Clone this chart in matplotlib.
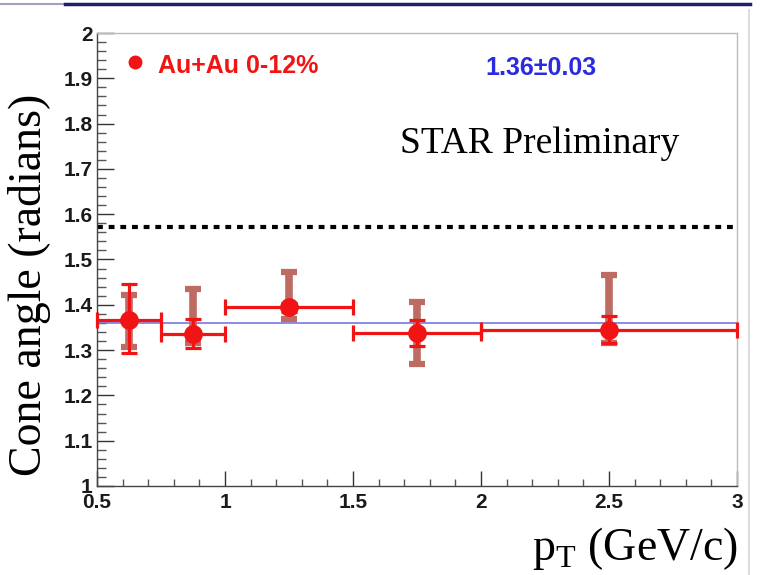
import numpy as np
import matplotlib.pyplot as plt
from matplotlib.lines import Line2D
from matplotlib.ticker import MultipleLocator

plt.rcParams['mathtext.fontset'] = 'custom'
plt.rcParams['mathtext.rm'] = 'Liberation Serif'

# pT bins (GeV/c)
pt = [0.625, 0.875, 1.25, 1.75, 2.5]
pt_lo = [0.5, 0.75, 1.0, 1.5, 2.0]
pt_hi = [0.75, 1.0, 1.5, 2.0, 3.0]

# cone angle with statistical and systematic errors
cone = [1.366, 1.336, 1.395, 1.338, 1.344]
stat_lo = [0.072, 0.031, 0.010, 0.029, 0.028]
stat_hi = [0.080, 0.033, 0.010, 0.028, 0.031]
syst_lo = [0.059, 0.020, 0.026, 0.069, 0.028]
syst_hi = [0.056, 0.099, 0.077, 0.068, 0.122]

# constant fit and the pi/2 reference
fit_value = 1.36
fit_error = 0.03
half_pi = np.pi / 2

red = '#f01414'
brown = '#bd6b63'

fig = plt.figure(figsize=(7.65, 5.75), dpi=100)
ax = fig.add_axes([0.1268, 0.1548, 0.8366, 0.7878])

xerr_lo = [p - lo for p, lo in zip(pt, pt_lo)]
xerr_hi = [hi - p for p, hi in zip(pt, pt_hi)]

ax.hlines(half_pi, 0.5, 2.985, colors='black', linewidth=3,
          linestyles=(0, (1.4, 1.4)), zorder=2)
ax.hlines(fit_value, 0.5, 3.0, colors='#6c6ce0', linewidth=1.1, zorder=2)

# systematic errors
ax.errorbar(pt, cone, yerr=[syst_lo, syst_hi], fmt='none', ecolor=brown,
            elinewidth=5.5, capsize=6, capthick=4.5, zorder=3)
# statistical errors and bin widths
ax.errorbar(pt, cone, xerr=[xerr_lo, xerr_hi], yerr=[stat_lo, stat_hi],
            fmt='o', color=red, ms=12.5, elinewidth=2.3, capsize=5.5,
            capthick=2.3, zorder=4, clip_on=False)

ax.set_xlim(0.5, 3.0)
ax.set_ylim(1.0, 2.0)
ax.xaxis.set_major_locator(MultipleLocator(0.5))
ax.xaxis.set_minor_locator(MultipleLocator(0.1))
ax.yaxis.set_major_locator(MultipleLocator(0.1))
ax.yaxis.set_minor_locator(MultipleLocator(0.02))
ax.xaxis.set_major_formatter(plt.FuncFormatter(lambda v, p: f'{v:g}'))
ax.yaxis.set_major_formatter(plt.FuncFormatter(lambda v, p: f'{v:g}'))

ax.tick_params(axis='y', which='major', direction='in', length=12, width=1,
               color='#333333', pad=3)
ax.tick_params(axis='y', which='minor', direction='in', length=6.5, width=1,
               color='#555555')
ax.tick_params(axis='x', which='major', direction='in', length=11, width=1,
               color='#333333', pad=5)
ax.tick_params(axis='x', which='minor', direction='in', length=5, width=1,
               color='#555555')
for lab in ax.get_xticklabels() + ax.get_yticklabels():
    lab.set_fontfamily('Liberation Sans')
    lab.set_fontweight('bold')
    lab.set_fontsize(15)
    lab.set_color('#1a1a1a')

for s in ['left', 'bottom']:
    ax.spines[s].set_color('#444444')
    ax.spines[s].set_linewidth(1)
for s in ['top', 'right']:
    ax.spines[s].set_color('#bbbbbb')
    ax.spines[s].set_linewidth(1)

# legend and annotations
ax.plot([0.648], [1.936], 'o', color=red, ms=9, clip_on=False)
ax.text(0.738, 1.912, 'Au+Au 0-12%', color=red, fontsize=18,
        fontweight='bold', family='Liberation Sans', va='baseline')
ax.text(2.234, 1.907, f'{fit_value:.2f}\u00b1{fit_error:.2f}', color='#2a2ae0',
        fontsize=18, fontweight='bold', family='Liberation Sans',
        ha='center', va='baseline')
ax.text(1.684, 1.735, 'STAR Preliminary', color='black', fontsize=27,
        family='Liberation Serif', va='baseline')

fig.text(30 / 765, 1 - 285 / 575, 'Cone angle (radians)', rotation=90,
         fontsize=33, family='Liberation Serif', ha='center', va='center')
fig.text(738 / 765, 1 - 560 / 575, r'$\mathrm{p}_{\mathrm{T}}$ (GeV/c)',
         fontsize=33, family='Liberation Serif', ha='right', va='baseline')

# slide frame lines
fig.add_artist(Line2D([0, 65 / 765], [1 - 4 / 575, 1 - 4 / 575],
                      color='#a0a0c0', lw=1.5))
fig.add_artist(Line2D([65 / 765, 750 / 765], [1 - 4 / 575, 1 - 4 / 575],
                      color='#1e1e6e', lw=2.5))
fig.add_artist(Line2D([749 / 765, 749 / 765], [0, 1 - 10 / 575],
                      color='#dddddd', lw=1.5))

fig.savefig('out.png', dpi=100)
